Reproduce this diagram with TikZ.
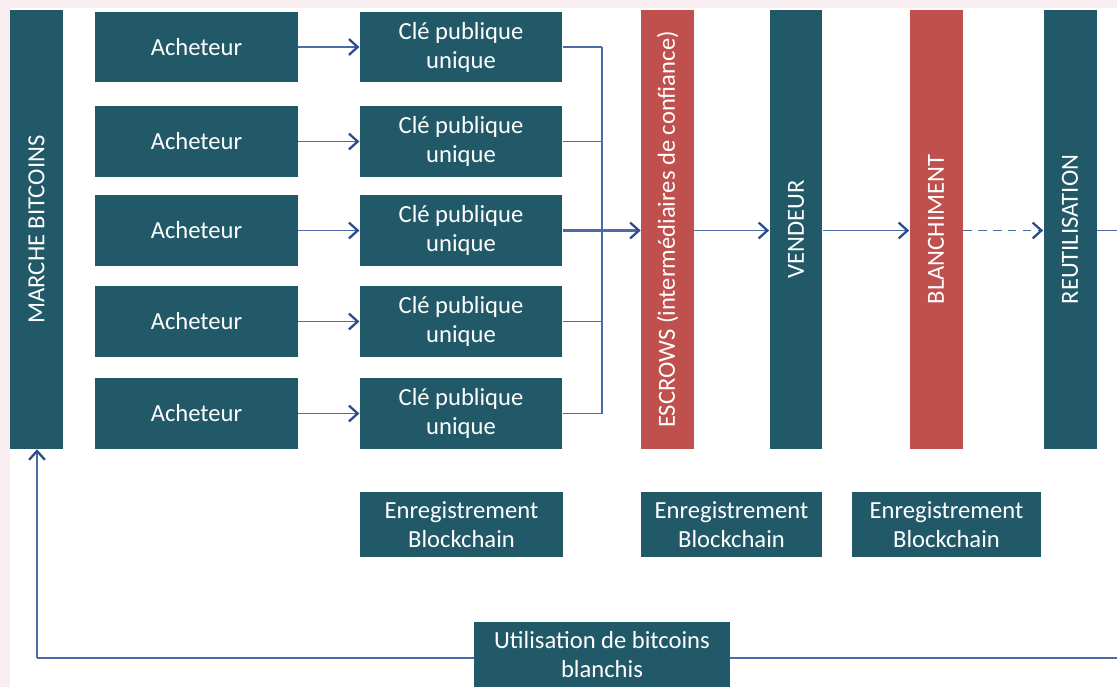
\documentclass[tikz,border=0pt]{standalone}
\usepackage{fontspec}
\setmainfont{Carlito}
\usepackage{tikz}
\usetikzlibrary{arrows.meta}
\definecolor{bleuvert}{HTML}{215968}
\definecolor{rouge}{HTML}{C0504D}
\definecolor{fleche}{HTML}{4A6BA5}
\definecolor{pointe}{HTML}{2B4C8A}
\definecolor{fond}{HTML}{F8EDF1}

\begin{document}
\begin{tikzpicture}[x=0.02cm,y=-0.02cm,
		box/.style={fill=bleuvert,text=white,inner sep=0pt,align=center,
			font=\fontsize{14}{16.5}\selectfont},
		rowbox/.style={box,minimum width=4.05cm,minimum height=1.42cm},
		colbox/.style={box,minimum width=8.78cm,minimum height=1.06cm,rotate=90},
		regbox/.style={box,minimum height=1.3cm},
		link/.style={draw=fleche,line width=0.9pt},
		arr/.style={link,-{Straight Barb[length=5pt,width=9pt,line width=1.3pt,color=pointe]}}
		]
		
		% fond et cadre
		\fill[fond] (0,0) rectangle (1117,687);
		\fill[white] (10,8) rectangle (1117,687);
		\useasboundingbox (0,0) rectangle (1117,687);
		
		\node[colbox] (M) at (36.5,229.5) {MARCHE BITCOINS};
		
		% acheteurs et cles
		\foreach \i/\y in {1/47,2/141.5,3/230.5,4/321.5,5/413.5}{
			\node[rowbox] (A\i) at (196.5,\y) {Acheteur};
			\node[rowbox] (K\i) at (461,\y) {Clé publique\\unique};
			\draw[arr] (A\i) -- (K\i.west);
		}
		\coordinate (J1) at (602,47);
		\coordinate (J5) at (602,413.5);
		\foreach \i in {1,2,4,5}
			\draw[link] (K\i.east) -- (K\i.east -| J1);
		\draw[link] (J1) -- (J5);
		
		\node[colbox,fill=rouge] (E) at (667.5,229.5) {ESCROWS (intermédiaires de confiance)};
		\node[colbox] (V) at (796,229.5) {VENDEUR};
		\node[colbox,fill=rouge] (B) at (936,229.5) {BLANCHIMENT};
		\node[colbox] (R) at (1070,229.5) {REUTILISATION};
		
		\draw[arr,line width=1.3pt] (K3.east) -- (K3.east -| E.north);
		\draw[arr] (E.south |- K3.east) -- (K3.east -| V.north);
		\draw[arr] (V.south |- K3.east) -- (K3.east -| B.north);
		\draw[arr,dash pattern=on 5pt off 3.5pt] (B.south |- K3.east) -- (K3.east -| R.north);
		\coordinate (Rout) at (1117,230.5);
		\draw[link] (R.south |- Rout) -- (Rout);
		
		% enregistrements
		\node[regbox,minimum width=4.06cm] (G1) at (461.5,524.5) {Enregistrement\\Blockchain};
		\node[regbox,minimum width=3.62cm] (G2) at (731.5,524.5) {Enregistrement\\Blockchain};
		\node[regbox,minimum width=3.78cm] (G3) at (946.5,524.5) {Enregistrement\\Blockchain};
		
		% retour
		\coordinate (Rb) at (1117,658);
		\coordinate (Mb) at (37,658);
		\draw[link] (Rb) -- (Mb);
		\draw[arr] (Mb) -- (Mb |- M.west);
		\node[regbox,minimum width=5.12cm] (U) at (602,654.5) {Utilisation de bitcoins\\blanchis};
	\end{tikzpicture}
\end{document}
